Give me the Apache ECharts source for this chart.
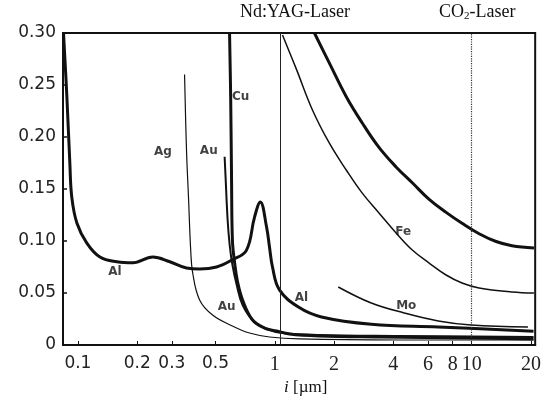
<!DOCTYPE html>
<html>
<head>
<meta charset="utf-8">
<script src="https://cdn.jsdelivr.net/npm/echarts@6/dist/echarts.min.js"></script>
<style>
  html, body { margin: 0; padding: 0; background: #fff; }
  #chart { width: 544px; height: 403px; }
</style>
</head>
<body>
<div id="chart"></div>
<script>
// wavelength ticks (µm), drawn on a log10 axis
const xTicks = [0.1, 0.2, 0.3, 0.5, 1, 2, 4, 6, 8, 10, 20];
const xMin = 0.084;
const xMax = 21;

// Al
const alLambda = [0.0845, 0.0879, 0.091, 0.0931, 0.0989, 0.111, 0.1294, 0.1577, 0.19, 0.24, 0.293, 0.356, 0.415, 0.506, 0.609, 0.717, 0.789, 0.844, 0.908, 0.94, 0.973, 1.056, 1.318, 1.725, 3.09, 6.76, 20.6];
const alValue  = [0.300, 0.2385, 0.175, 0.142, 0.117, 0.098, 0.0846, 0.080, 0.079, 0.0845, 0.080, 0.074, 0.073, 0.075, 0.082, 0.091, 0.123, 0.1375, 0.1135, 0.094, 0.075, 0.053, 0.0365, 0.027, 0.020, 0.0173, 0.0133];
// Cu
const cuLambda = [0.589, 0.597, 0.603, 0.609, 0.625, 0.647, 0.686, 0.771, 0.887, 1.02, 1.187, 1.684, 3.39, 9.7, 20.6];
const cuValue  = [0.300, 0.236, 0.159, 0.101, 0.079, 0.0606, 0.0433, 0.024, 0.0163, 0.0135, 0.0106, 0.0087, 0.0077, 0.0067, 0.0058];
// Au
const auLambda = [0.556, 0.563, 0.576, 0.59, 0.609, 0.64, 0.686, 0.789, 0.94, 1.094, 1.684, 4.28, 20.6];
const auValue  = [0.181, 0.159, 0.120, 0.096, 0.077, 0.058, 0.0385, 0.022, 0.0144, 0.0115, 0.0096, 0.0087, 0.0077];
// Ag
const agLambda = [0.348, 0.356, 0.365, 0.374, 0.383, 0.415, 0.483, 0.609, 0.744, 0.94, 1.334, 4.28, 20.6];
const agValue  = [0.260, 0.1875, 0.139, 0.091, 0.069, 0.0433, 0.0288, 0.0183, 0.0115, 0.0077, 0.0058, 0.0048, 0.0048];
// Fe
const feLambda = [1.094, 1.288, 1.553, 1.893, 2.31, 2.78, 3.38, 4.14, 4.99, 6.08, 7.41, 8.93, 10.9, 16.0, 20.7];
const feValue  = [0.298, 0.265, 0.226, 0.194, 0.168, 0.146, 0.127, 0.1075, 0.0913, 0.0788, 0.0673, 0.0596, 0.0548, 0.051, 0.050];
// thick upper curve (unlabelled)
const upLambda = [1.589, 1.893, 2.31, 2.78, 3.38, 4.14, 4.99, 6.08, 7.41, 8.93, 10.9, 13.3, 16.0, 20.7];
const upValue  = [0.300, 0.271, 0.2385, 0.2135, 0.190, 0.171, 0.156, 0.140, 0.1275, 0.117, 0.107, 0.0995, 0.0955, 0.0933];
// Mo
const moLambda = [2.10, 3.09, 4.54, 6.76, 9.93, 19.3];
const moValue  = [0.0558, 0.0404, 0.0308, 0.0231, 0.0192, 0.0173];

// laser wavelengths
const yagLambda = 1.07;
const co2Lambda = 10.0;

// curve labels
const labelNames  = ['Cu', 'Ag', 'Au', 'Al', 'Au', 'Al', 'Fe', 'Mo'];
const labelLambda = [0.67, 0.27, 0.462, 0.154, 0.569, 1.365, 4.49, 4.65];
const labelValue  = [0.239, 0.1856, 0.1865, 0.070, 0.0365, 0.045, 0.1087, 0.0375];

const lg = Math.log10;

function curve(name, lam, val, width) {
  return {
    name: name,
    type: 'line',
    data: lam.map((l, i) => [lg(l), val[i]]),
    showSymbol: false,
    smooth: 0.4,
    lineStyle: { color: '#111', width: width },
    z: 3
  };
}

const myChart = echarts.init(document.getElementById('chart'));

myChart.setOption({
  animation: false,
  grid: {
    left: 63, right: 8, top: 33, bottom: 58,
    show: true, borderColor: '#111', borderWidth: 2
  },
  xAxis: {
    type: 'value',
    min: lg(xMin),
    max: lg(xMax),
    splitLine: { show: false },
    axisLine: { show: true, onZero: false, lineStyle: { color: '#111', width: 2 } },
    axisTick: {
      show: true, inside: true, length: 4,
      customValues: xTicks.map(lg),
      lineStyle: { color: '#111', width: 1 }
    },
    axisLabel: {
      margin: 10,
      customValues: xTicks.map(lg),
      formatter: function (v) {
        const t = xTicks.reduce((a, b) => Math.abs(lg(b) - v) < Math.abs(lg(a) - v) ? b : a);
        return t < 1 ? '{s|' + t + '}' : '{r|' + t + '}';
      },
      rich: {
        s: { fontFamily: 'DejaVu Sans', fontSize: 17, color: '#222' },
        r: { fontFamily: 'Liberation Serif', fontSize: 20, color: '#222' }
      }
    }
  },
  yAxis: {
    type: 'value',
    min: 0,
    max: 0.30,
    interval: 0.05,
    splitLine: { show: false },
    axisLine: { show: true, onZero: false, lineStyle: { color: '#111', width: 2 } },
    axisTick: { show: true, inside: true, length: 4, lineStyle: { color: '#111', width: 1.5 } },
    axisLabel: {
      margin: 7,
      fontFamily: 'DejaVu Sans',
      fontSize: 17,
      color: '#222',
      formatter: v => v === 0 ? '0' : v.toFixed(2)
    }
  },
  graphic: [
    {
      type: 'text', left: 240, top: 3,
      style: { text: 'Nd:YAG-Laser', font: '18px "Liberation Serif"', fill: '#111' }
    },
    {
      type: 'text', left: 439, top: 3,
      style: {
        text: '{a|CO}{b|2}{a|-Laser}',
        rich: {
          a: { fontFamily: 'Liberation Serif', fontSize: 18, fill: '#111' },
          b: { fontFamily: 'Liberation Serif', fontSize: 11, fill: '#111', padding: [8, 0, 0, 0] }
        }
      }
    },
    {
      type: 'text', left: 284, top: 379,
      style: {
        text: '{i|i} [µm]',
        font: '17px "Liberation Serif"', fill: '#111',
        rich: { i: { fontFamily: 'Liberation Serif', fontStyle: 'italic', fontSize: 17, fill: '#111' } }
      }
    }
  ],
  series: [
    curve('Al', alLambda, alValue, 3),
    curve('Cu', cuLambda, cuValue, 3),
    curve('Au', auLambda, auValue, 2),
    curve('Ag', agLambda, agValue, 1.2),
    curve('Fe', feLambda, feValue, 1.5),
    curve('upper', upLambda, upValue, 3),
    curve('Mo', moLambda, moValue, 1.5),
    {
      name: 'lasers',
      type: 'line',
      data: [],
      markLine: {
        silent: true,
        symbol: 'none',
        label: { show: false },
        data: [
          { xAxis: lg(yagLambda), lineStyle: { color: '#222', width: 1, type: 'solid' } },
          { xAxis: lg(co2Lambda), lineStyle: { color: '#333', width: 1.2, type: 'dotted' } }
        ]
      }
    },
    {
      name: 'labels',
      type: 'scatter',
      symbolSize: 0,
      data: labelNames.map((n, i) => ({ value: [lg(labelLambda[i]), labelValue[i]], name: n })),
      label: {
        show: true,
        position: 'inside',
        formatter: p => p.name,
        fontFamily: 'DejaVu Sans',
        fontWeight: 'bold',
        fontSize: 12,
        color: '#111'
      },
      z: 5
    }
  ]
});

window.addEventListener('resize', () => {
  myChart.resize();
});
</script>
</body>
</html>
